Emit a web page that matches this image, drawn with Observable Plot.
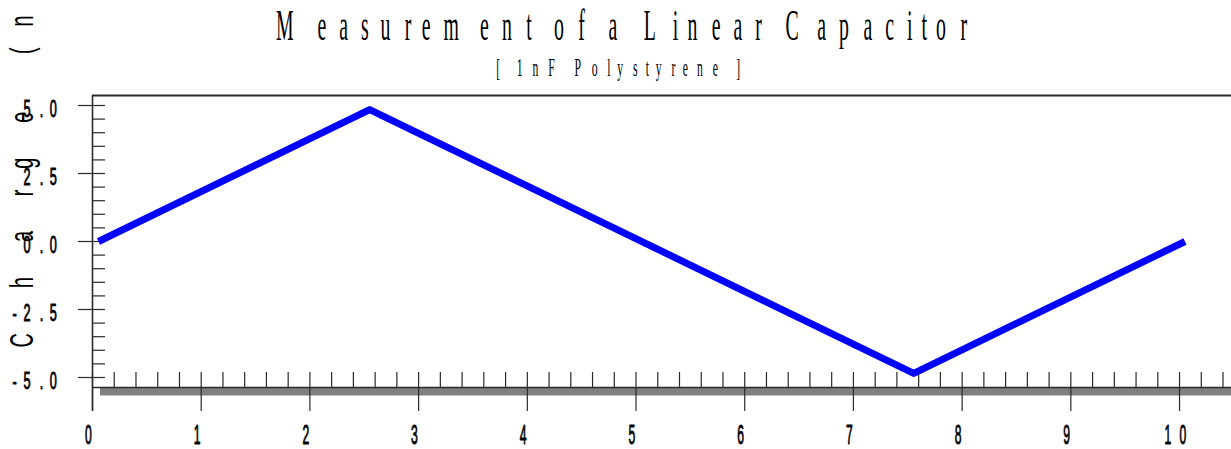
<!DOCTYPE html>
<html>
<head>
<meta charset="utf-8">
<script src="https://cdn.jsdelivr.net/npm/d3@7"></script>
<script src="https://cdn.jsdelivr.net/npm/@observablehq/plot@0.6"></script>
<style>
  html, body { margin: 0; padding: 0; background: #fff; }
</style>
</head>
<body>
<div id="chart"></div>
<script>
// ---- texts ----
const titleText = "Measurement of a Linear Capacitor";
const subtitleText = "[ 1nF Polystyrene ]";
const yLabelText = "Charge (nC)";

// ---- series ----
const timeS = [0.055, 2.55, 7.555, 10.05];
const chargeNC = [0, 4.85, -4.85, 0];

// ---- axes ----
const xDomain = [0, 10.478];
const yDomain = [-5.368, 5.368];
const xMajorTicks = [0, 1, 2, 3, 4, 5, 6, 7, 8, 9, 10];
const xTickLabels = ["0", "1", "2", "3", "4", "5", "6", "7", "8", "9", "10"];
const yMajorTicks = [-5, -2.5, 0, 2.5, 5];
const yTickLabels = ["-5.0", "-2.5", "0.0", "2.5", "5.0"];
const xMinorTicks = d3.range(1, 53).map(i => i / 5).filter(v => v % 1 !== 0);
const yMinorTicks = d3.range(-10, 11).map(i => i / 2).filter(v => v % 2.5 !== 0);

const data = timeS.map((t, i) => ({t, q: chargeNC[i]}));

const SANS = "'Liberation Sans', Arial, sans-serif";
const SERIF = "'Liberation Serif', 'Times New Roman', serif";

const W = 1231, H = 449;
const mL = 92, mR = 0, mT = 95, mB = 62;
const frameH = H - mT - mB;   // 292
const frameW = W - mL - mR;   // 1139

const axisColor = "#2a2a2a";

const chart = Plot.plot({
  width: W,
  height: H,
  marginLeft: mL,
  marginRight: mR,
  marginTop: mT,
  marginBottom: mB,
  style: {background: "#fff", overflow: "hidden"},
  x: {domain: xDomain, axis: null},
  y: {domain: yDomain, axis: null},
  marks: [
    // grey shadow under the x axis
    Plot.ruleY([yDomain[0]], {stroke: "#808080", strokeWidth: 8, dy: 4, insetLeft: 8}),
    // top border
    Plot.ruleY([yDomain[1]], {stroke: axisColor, strokeWidth: 2}),
    // x axis line
    Plot.ruleY([yDomain[0]], {stroke: axisColor, strokeWidth: 1.6}),
    // y axis line
    Plot.ruleX([xDomain[0]], {stroke: axisColor, strokeWidth: 1.6, insetBottom: -24}),
    // x ticks
    Plot.ruleX(xMinorTicks, {x: d => d, stroke: axisColor, strokeWidth: 1.2, insetTop: frameH - 15}),
    Plot.ruleX(xMajorTicks, {x: d => d, stroke: axisColor, strokeWidth: 1.2, insetTop: frameH - 15, insetBottom: -24}),
    // y ticks
    Plot.ruleY(yMinorTicks, {y: d => d, stroke: axisColor, strokeWidth: 1.2, insetRight: frameW - 13}),
    Plot.ruleY(yMajorTicks, {y: d => d, stroke: axisColor, strokeWidth: 1.2, insetLeft: -14, insetRight: frameW - 13}),
    // tick labels
    Plot.text(xMajorTicks, {x: d => d, text: (d, i) => xTickLabels[i], frameAnchor: "bottom", dy: 56,
      fill: "#000", stroke: "#000", strokeWidth: 0.9}),
    Plot.text(yMajorTicks, {y: d => d, text: (d, i) => yTickLabels[i], frameAnchor: "left", dx: -30, dy: 11.5,
      fill: "#000", stroke: "#000", strokeWidth: 0.9}),
    // titles and y label
    Plot.text([titleText], {text: d => d, frameAnchor: "top-left", dx: 625 - mL, dy: 39 - mT, fill: "#000"}),
    Plot.text([subtitleText], {text: d => d, frameAnchor: "top-left", dx: 620 - mL, dy: 75 - mT, fill: "#000"}),
    Plot.text([yLabelText], {text: d => d, frameAnchor: "top-left", rotate: -90, dx: 32 - mL, dy: 347 - mT, fill: "#000"}),
    // the measurement
    Plot.line(data, {x: "t", y: "q", stroke: "#0000ff", strokeWidth: 7, strokeLinejoin: "round", strokeLinecap: "butt"})
  ]
});

// condensed, widely spaced lettering like the reference
function textStyle(s) {
  if (s === titleText) return {family: SERIF, size: 44, sx: 0.45, adv: 1, ls: 2.3, anchor: "middle"};
  if (s === subtitleText) return {family: SERIF, size: 26, sx: 0.45, adv: 1, ls: 2.7, anchor: "middle"};
  if (s === yLabelText) return {family: SANS, size: 33, sx: 0.6, adv: 2.5, ls: 0, anchor: "start"};
  if (xTickLabels.includes(s)) return {family: SANS, size: 27, sx: 0.45, adv: 1, ls: 0, anchor: "middle"};
  if (yTickLabels.includes(s)) return {family: SANS, size: 23, sx: 0.55, adv: 1, ls: 3.5, anchor: "end"};
  return null;
}

const ctx = document.createElement("canvas").getContext("2d");
chart.querySelectorAll("text").forEach(t => {
  const s = t.textContent;
  const cfg = textStyle(s);
  if (!cfg) return;
  ctx.font = `${cfg.size}px ${cfg.family}`;
  const n = s.length;
  const w = [];
  for (let i = 0; i <= n; i++) w.push(ctx.measureText(s.slice(0, i)).width);
  const total = cfg.adv * w[n] + (n - 1) * cfg.ls;
  const off = cfg.anchor === "middle" ? -total / 2 : cfg.anchor === "end" ? -total : 0;
  const xs = [];
  for (let i = 0; i < n; i++) xs.push(((off + cfg.adv * w[i] + i * cfg.ls) / cfg.sx).toFixed(2));
  t.style.fontFamily = cfg.family;
  t.style.fontSize = cfg.size + "px";
  t.setAttribute("x", xs.join(" "));
  t.setAttribute("y", "0");
  t.setAttribute("text-anchor", "start");
  t.setAttribute("transform", (t.getAttribute("transform") || "") + ` scale(${cfg.sx},1)`);
});

document.getElementById("chart").appendChild(chart);
</script>
</body>
</html>
